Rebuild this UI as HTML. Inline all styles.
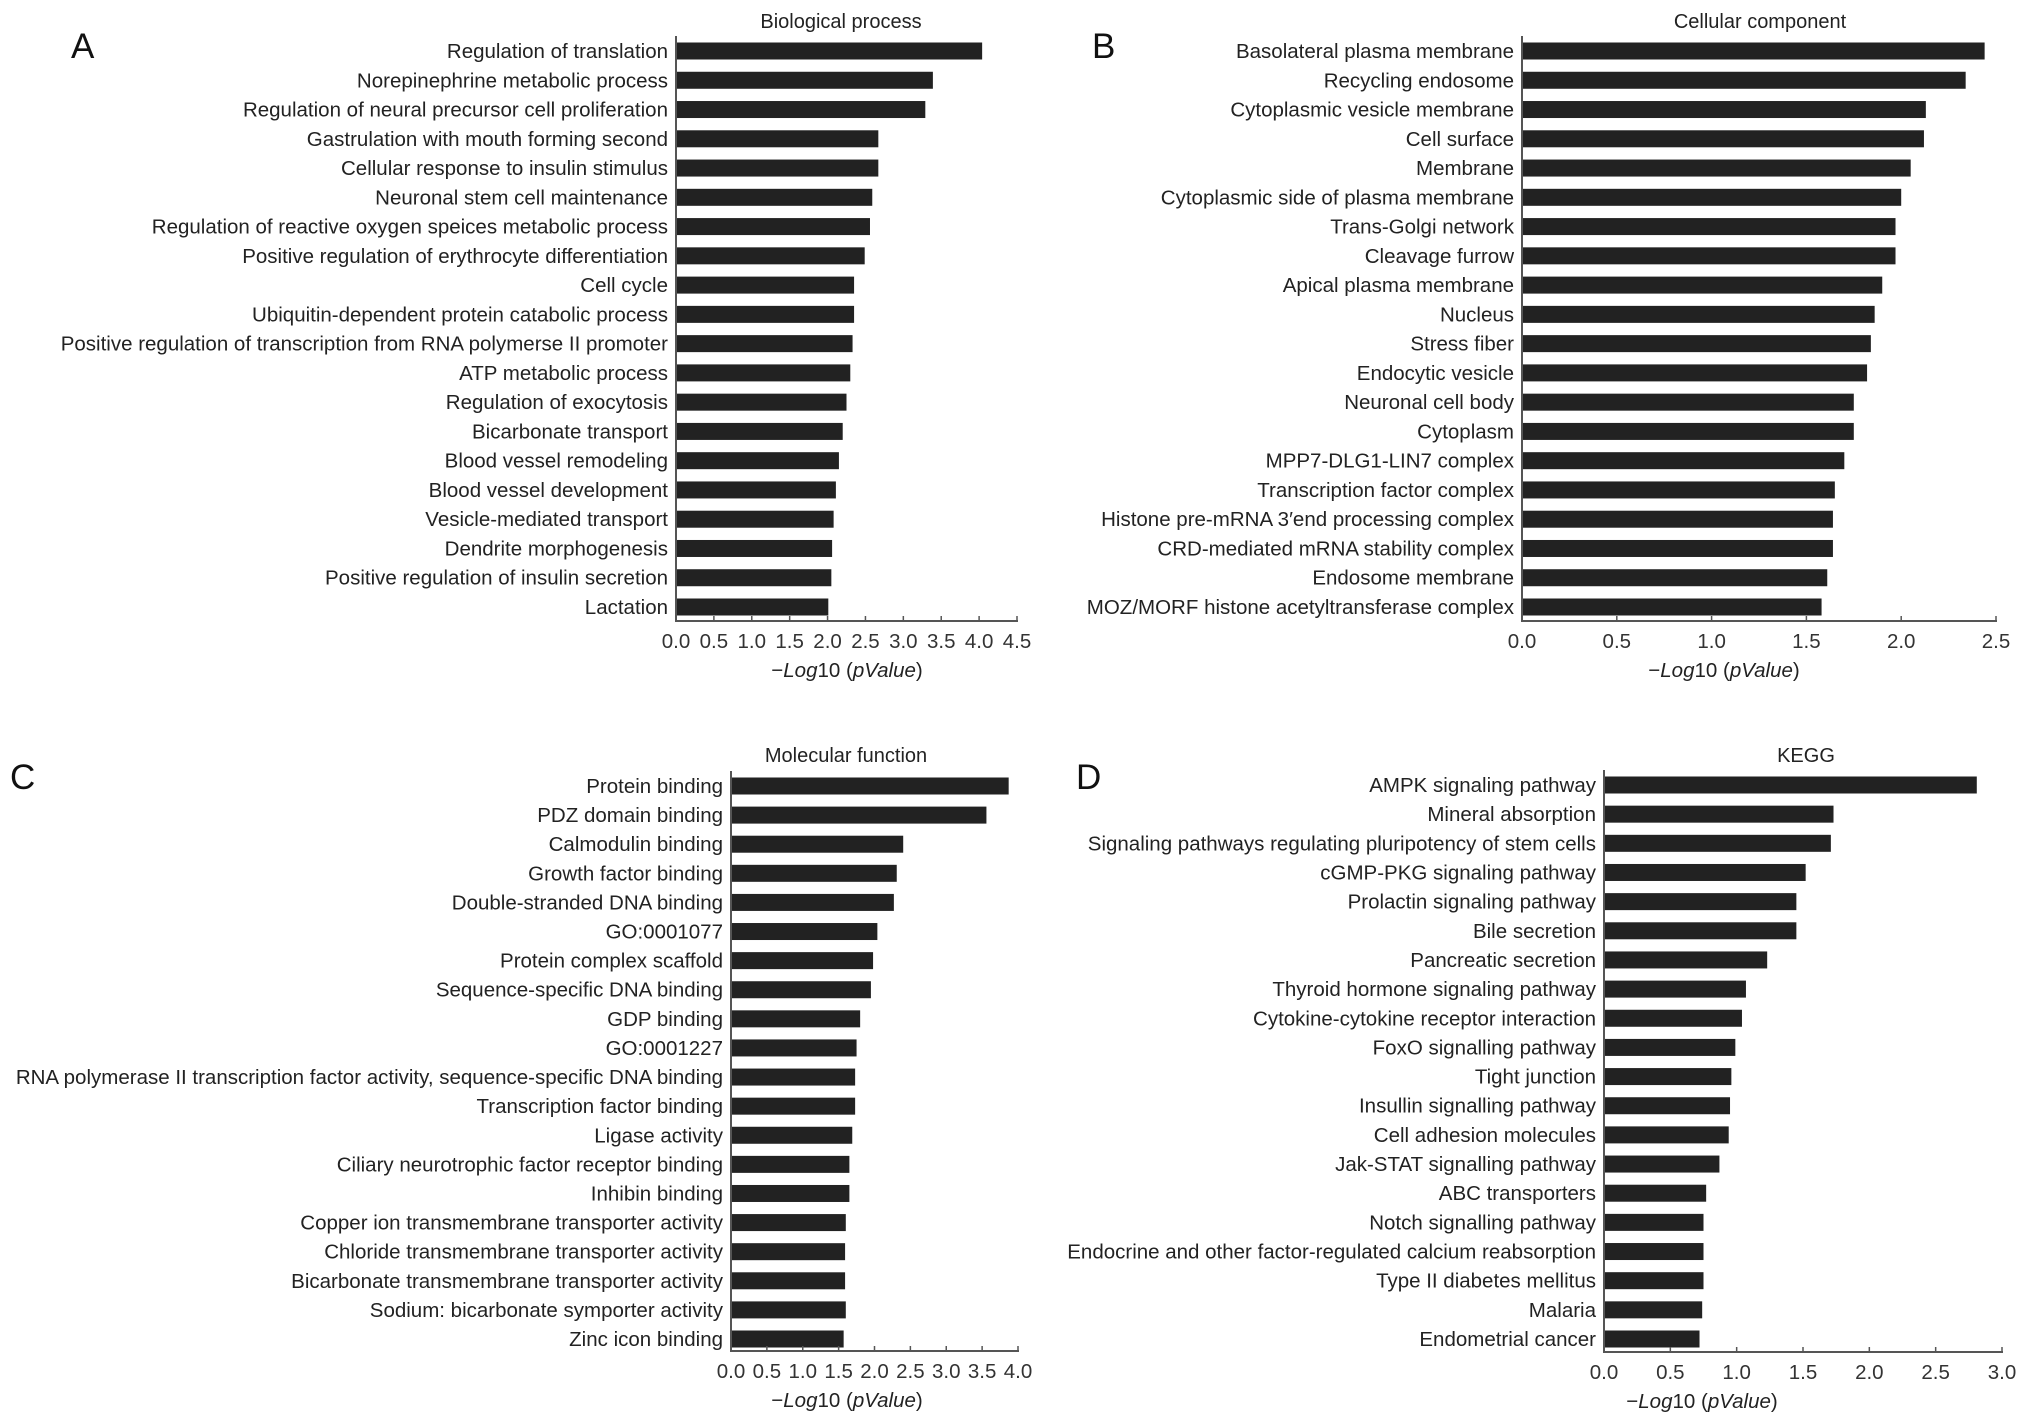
<!DOCTYPE html>
<html><head><meta charset="utf-8"><style>
html,body{margin:0;padding:0;background:#fff;}
svg{display:block;font-family:"Liberation Sans",Arial,sans-serif;}
</style></head><body>
<svg id="fig" width="2031" height="1427" viewBox="0 0 2031 1427" xmlns="http://www.w3.org/2000/svg"></svg>
<script>
const catsA=["Regulation of translation","Norepinephrine metabolic process","Regulation of neural precursor cell proliferation","Gastrulation with mouth forming second","Cellular response to insulin stimulus","Neuronal stem cell maintenance","Regulation of reactive oxygen speices metabolic process","Positive regulation of erythrocyte differentiation","Cell cycle","Ubiquitin-dependent protein catabolic process","Positive regulation of transcription from RNA polymerse II promoter","ATP metabolic process","Regulation of exocytosis","Bicarbonate transport","Blood vessel remodeling","Blood vessel development","Vesicle-mediated transport","Dendrite morphogenesis","Positive regulation of insulin secretion","Lactation"];
const valsA=[4.04,3.39,3.29,2.67,2.67,2.59,2.56,2.49,2.35,2.35,2.33,2.30,2.25,2.20,2.15,2.11,2.08,2.06,2.05,2.01];
const ticksA=["0.0","0.5","1.0","1.5","2.0","2.5","3.0","3.5","4.0","4.5"];
const catsB=["Basolateral plasma membrane","Recycling endosome","Cytoplasmic vesicle membrane","Cell surface","Membrane","Cytoplasmic side of plasma membrane","Trans-Golgi network","Cleavage furrow","Apical plasma membrane","Nucleus","Stress fiber","Endocytic vesicle","Neuronal cell body","Cytoplasm","MPP7-DLG1-LIN7 complex","Transcription factor complex","Histone pre-mRNA 3\u2032end processing complex","CRD-mediated mRNA stability complex","Endosome membrane","MOZ/MORF histone acetyltransferase complex"];
const valsB=[2.44,2.34,2.13,2.12,2.05,2.00,1.97,1.97,1.90,1.86,1.84,1.82,1.75,1.75,1.70,1.65,1.64,1.64,1.61,1.58];
const ticksB=["0.0","0.5","1.0","1.5","2.0","2.5"];
const catsC=["Protein binding","PDZ domain binding","Calmodulin binding","Growth factor binding","Double-stranded DNA binding","GO:0001077","Protein complex scaffold","Sequence-specific DNA binding","GDP binding","GO:0001227","RNA polymerase II transcription factor activity, sequence-specific DNA binding","Transcription factor binding","Ligase activity","Ciliary neurotrophic factor receptor binding","Inhibin binding","Copper ion transmembrane transporter activity","Chloride transmembrane transporter activity","Bicarbonate transmembrane transporter activity","Sodium: bicarbonate symporter activity","Zinc icon binding"];
const valsC=[3.87,3.56,2.40,2.31,2.27,2.04,1.98,1.95,1.80,1.75,1.73,1.73,1.69,1.65,1.65,1.60,1.59,1.59,1.60,1.57];
const ticksC=["0.0","0.5","1.0","1.5","2.0","2.5","3.0","3.5","4.0"];
const catsD=["AMPK signaling pathway","Mineral absorption","Signaling pathways regulating  pluripotency of stem cells","cGMP-PKG signaling pathway","Prolactin signaling pathway","Bile secretion","Pancreatic secretion","Thyroid hormone signaling pathway","Cytokine-cytokine receptor interaction","FoxO signalling pathway","Tight junction","Insullin signalling pathway","Cell adhesion molecules","Jak-STAT signalling pathway","ABC transporters","Notch signalling pathway","Endocrine and other factor-regulated calcium reabsorption","Type II diabetes mellitus","Malaria","Endometrial cancer"];
const valsD=[2.81,1.73,1.71,1.52,1.45,1.45,1.23,1.07,1.04,0.99,0.96,0.95,0.94,0.87,0.77,0.75,0.75,0.75,0.74,0.72];
const ticksD=["0.0","0.5","1.0","1.5","2.0","2.5","3.0"];

const NS="http://www.w3.org/2000/svg";
const svg=document.getElementById('fig');
function mk(tag,attrs,parent){const e=document.createElementNS(NS,tag);for(const k in attrs)e.setAttribute(k,attrs[k]);(parent||svg).appendChild(e);return e;}
const FS=20.5;
function panel(key,letter,title,cats,vals,ticks,cfg){
  const g=mk('g',{});
  
  
  const tmax=parseFloat(ticks[ticks.length-1]);
  const xs=v=>cfg.x0+(v/tmax)*(cfg.x1-cfg.x0);
  const ys=i=>cfg.yFirst+i*(cfg.yLast-cfg.yFirst)/(cats.length-1);
  const L=mk('text',{x:cfg.lx,y:cfg.ly,'font-size':35,fill:'#111'},g);L.textContent=letter;
  
  
  const T=mk('text',{x:cfg.tx,y:cfg.ty,'font-size':FS-0.5,fill:'#222','text-anchor':'middle'},g);T.textContent=title;
  
  
  cats.forEach((c,i)=>{
    const y=ys(i);
    const r=mk('rect',{x:cfg.x0,y:y-8.5,width:xs(vals[i])-cfg.x0,height:17,fill:'#222'},g);
    
    
    const t=mk('text',{x:cfg.x0-8,y:y+7,'font-size':FS,fill:'#222','text-anchor':'end'},g);t.textContent=c;
    
    
  });
  const ya=mk('line',{x1:cfg.x0,y1:cfg.yFirst-15,x2:cfg.x0,y2:cfg.axY,stroke:'#555','stroke-width':2},g);
  
  
  const xa=mk('line',{x1:cfg.x0-1,y1:cfg.axY,x2:cfg.x1+1,y2:cfg.axY,stroke:'#555','stroke-width':2},g);
  
  
  ticks.forEach(tk=>{
    const x=xs(parseFloat(tk));
    mk('line',{x1:x,y1:cfg.axY-5,x2:x,y2:cfg.axY,stroke:'#555','stroke-width':1.5},g);
    const t=mk('text',{x:x,y:cfg.axY+27,'font-size':FS,fill:'#333','text-anchor':'middle'},g);t.textContent=tk;
    
    
  });
  const at=mk('text',{x:cfg.atx,y:cfg.axY+56,'font-size':FS,fill:'#222','text-anchor':'middle'},g);
  at.innerHTML='\u2212<tspan font-style="italic">Log</tspan>10 (<tspan font-style="italic">pValue</tspan>)';
  
  
}
panel('a','A','Biological process',catsA,valsA,ticksA,{x0:676,x1:1017,yFirst:51,yLast:607,axY:621,lx:71,ly:58,tx:841,ty:28,atx:847});
panel('b','B','Cellular component',catsB,valsB,ticksB,{x0:1522,x1:1996,yFirst:51,yLast:607,axY:621,lx:1092,ly:58,tx:1760,ty:28,atx:1724});
panel('c','C','Molecular function',catsC,valsC,ticksC,{x0:731,x1:1018,yFirst:786,yLast:1339,axY:1351,lx:10,ly:789,tx:846,ty:762,atx:847});
panel('d','D','KEGG',catsD,valsD,ticksD,{x0:1604,x1:2002,yFirst:785,yLast:1339,axY:1352,lx:1076,ly:789,tx:1806,ty:762,atx:1702});
</script>
</body></html>
